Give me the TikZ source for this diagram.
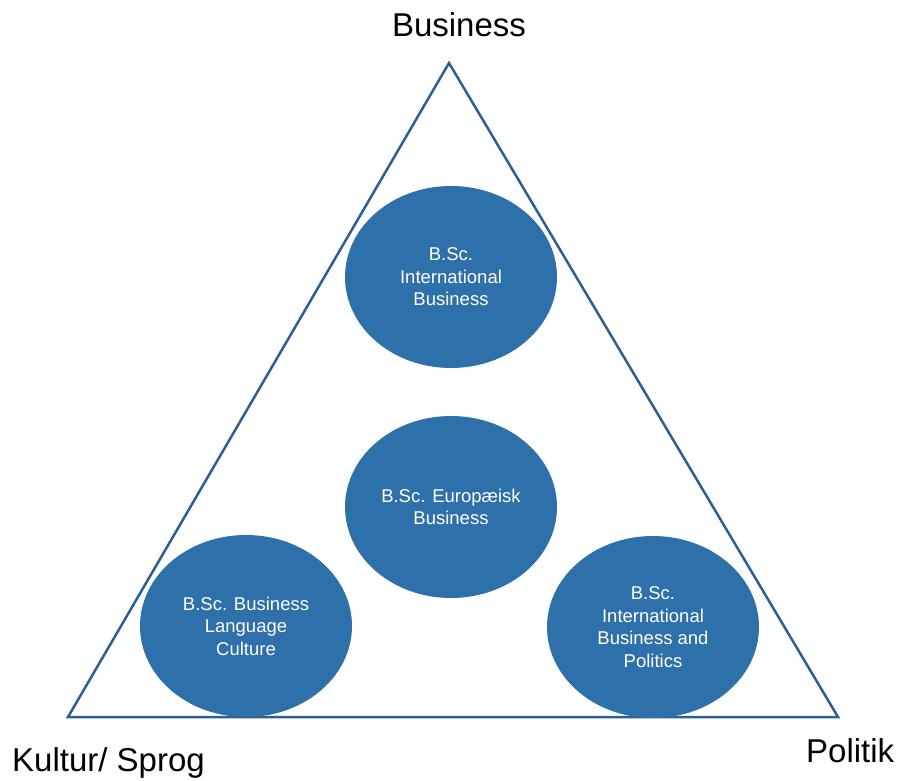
\documentclass[tikz,border=0pt]{standalone}
\usepackage{fontspec}
\setmainfont{Liberation Sans}
\usetikzlibrary{shapes.geometric}
\definecolor{edgeblue}{RGB}{44,95,148}
\definecolor{fillblue}{RGB}{46,112,170}
\tikzset{
    program-oval/.style = {ellipse, fill=fillblue, text=white, minimum width=212pt, minimum height=182pt, inner sep=0pt, align=center, font=\fontsize{18.5}{22.5}\selectfont},
    corner-label/.style = {font=\fontsize{33}{38}\selectfont, inner sep=0pt},
}
\begin{document}
\begin{tikzpicture}[x=1pt, y=-1pt]
\useasboundingbox (0,0) rectangle (899,780);
\coordinate (top) at (449,63);
\coordinate (left) at (68,717);
\coordinate (right) at (838,717);
\draw[edgeblue, line width=2.5pt, line join=miter] (top) -- (right) -- (left) -- cycle;
\node[program-oval] (ib) at (451,277) {B.Sc.\\International\\Business};
\node[program-oval] (eb) at (451,507) {B.Sc. Europæisk\\Business};
\node[program-oval] (blc) at (246,626) {B.Sc. Business\\Language\\Culture};
\node[program-oval] (ibp) at (653,627) {B.Sc.\\International\\Business and\\Politics};
\node[corner-label, anchor=base] (business) at (459,36) {Business};
\node[corner-label, anchor=base west] (kultur) at (12,771) {Kultur/ Sprog};
\node[corner-label, anchor=base west] (politik) at (806,762) {Politik};
\end{tikzpicture}
\end{document}
